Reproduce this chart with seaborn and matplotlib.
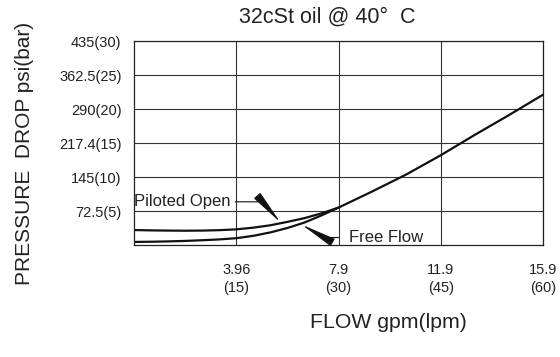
import matplotlib
matplotlib.use('Agg')
import matplotlib.pyplot as plt
import seaborn as sns
from matplotlib import font_manager

# flow in lpm, pressure drop in bar
free_flow_lpm = [0, 2.5, 5, 7.5, 10, 12.5, 15, 17.5, 20, 22.5, 25, 27.5, 30, 35, 40, 45, 50, 55, 60]
free_flow_bar = [0.45, 0.48, 0.53, 0.6, 0.7, 0.82, 1.0, 1.35, 1.85, 2.5, 3.3, 4.35, 5.5, 7.9, 10.4, 13.2, 16.2, 19.1, 22.1]
piloted_lpm = [0, 2.5, 5, 7.5, 10, 12.5, 15, 17.5, 20, 22.5, 25, 27.5, 30]
piloted_bar = [2.2, 2.15, 2.12, 2.1, 2.12, 2.18, 2.3, 2.55, 2.9, 3.4, 3.95, 4.65, 5.5]

x_ticks_lpm = [15, 30, 45, 60]
x_ticks_gpm = ['3.96', '7.9', '11.9', '15.9']
y_ticks_bar = [5, 10, 15, 20, 25, 30]
y_ticks_psi = ['72.5', '145', '217.4', '290', '362.5', '435']

sns.set_style('white')
names = {f.name for f in font_manager.fontManager.ttflist}
narrow = ['Liberation Sans Narrow', 'Liberation Sans'] if 'Liberation Sans Narrow' in names else ['Liberation Sans']
plt.rcParams['font.family'] = ['Liberation Sans', 'DejaVu Sans']

fig = plt.figure(figsize=(5.6, 3.57), dpi=100)
ax = fig.add_axes([134 / 560, 1 - 245 / 357, 409 / 560, 204 / 357])

sns.lineplot(x=free_flow_lpm, y=free_flow_bar, ax=ax, color='#111111', lw=1.6)
sns.lineplot(x=piloted_lpm, y=piloted_bar, ax=ax, color='#111111', lw=1.6)

ax.set_xlim(0, 60)
ax.set_ylim(0, 30)
ax.set_xticks(x_ticks_lpm)
ax.set_xticklabels([f'{g}\n({l})' for g, l in zip(x_ticks_gpm, x_ticks_lpm)],
                   family=narrow, fontsize=10.5, linespacing=1.4)
ax.set_yticks(y_ticks_bar)
ax.set_yticklabels([f'{p}({b})' for p, b in zip(y_ticks_psi, y_ticks_bar)],
                   family=narrow, fontsize=10.5)
ax.tick_params(axis='x', length=0, pad=13, colors='#222222')
ax.tick_params(axis='y', length=0, pad=9, colors='#222222')
ax.grid(True, color='#333333', lw=0.8)
for s in ax.spines.values():
    s.set_visible(True)
    s.set_color('#222222')
    s.set_linewidth(0.9)

arrow = dict(arrowstyle='-|>,head_length=2.2,head_width=0.26', color='#111111',
             lw=0.8, mutation_scale=10)
ax.annotate('Piloted Open', xy=(21.5, 3.3), xytext=(0, 6.35), fontsize=12,
            ha='left', va='center', color='#222222',
            arrowprops=dict(arrow, connectionstyle='angle,angleA=0,angleB=131,rad=0',
                            relpos=(1, 0.5), shrinkA=1, shrinkB=0))
ax.annotate('Free Flow', xy=(24.6, 3.0), xytext=(31.5, 1.1), fontsize=12,
            ha='left', va='center', color='#222222',
            arrowprops=dict(arrow, connectionstyle='angle,angleA=180,angleB=-30,rad=0',
                            relpos=(0, 0.5), shrinkA=5, shrinkB=0))

fig.text(327 / 560, 1 - 17 / 357, '32cSt oil @ 40°  C', fontsize=15.5,
         ha='center', va='center', color='#222222')
fig.text(25 / 560, 1 - 153 / 357, 'PRESSURE  DROP psi(bar)', fontsize=15,
         rotation=90, ha='center', va='center', color='#222222')
fig.text(388 / 560, 1 - 322 / 357, 'FLOW gpm(lpm)', fontsize=15.3,
         ha='center', va='center', color='#222222')

fig.savefig('out.png', dpi=100, facecolor='white')
